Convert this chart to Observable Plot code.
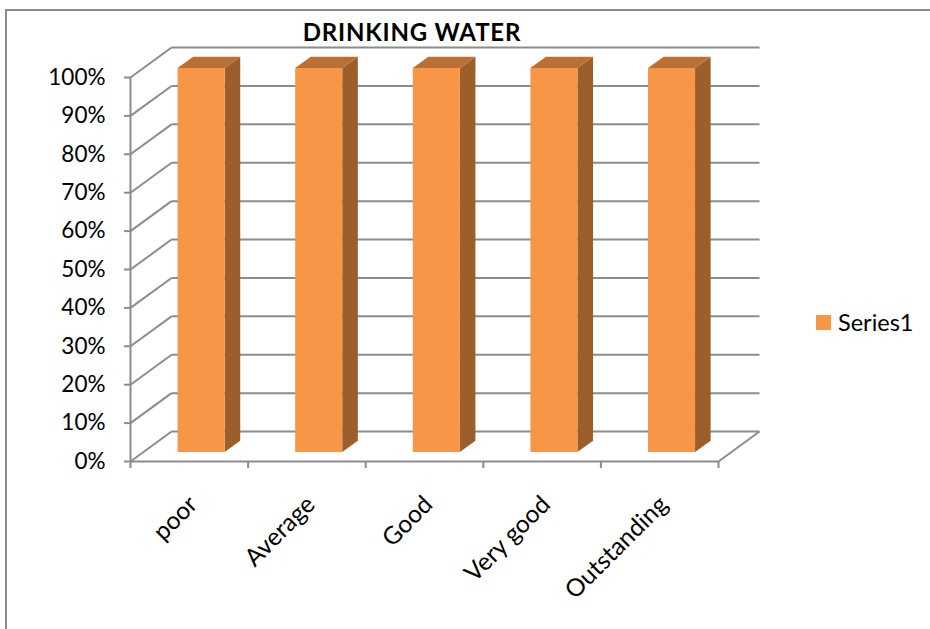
<!DOCTYPE html>
<html>
<head>
<meta charset="utf-8">
<script src="https://cdn.jsdelivr.net/npm/d3@7"></script>
<script src="https://cdn.jsdelivr.net/npm/@observablehq/plot@0.6"></script>
<style>
  html, body { margin: 0; padding: 0; background: #fff; }
  #wrap { position: relative; width: 930px; height: 629px; overflow: hidden; font-family: Lato, "Open Sans", sans-serif; }
  #border { position: absolute; left: 5px; top: 9px; width: 1200px; height: 1200px; border-left: 2px solid #8c8c8c; border-top: 2px solid #8c8c8c; }
  #title { position: absolute; top: 19.5px; left: 412px; transform: translateX(-50%); font-size: 24px; letter-spacing: 0.8px; font-weight: bold; line-height: 1; white-space: nowrap; color: #000; }
  #legend { position: absolute; left: 816px; top: 311px; font-size: 23.5px; line-height: 1; white-space: nowrap; display: flex; align-items: center; }
  #legend .sw { width: 15px; height: 15px; background: #F79646; margin-right: 7px; }
  #chart { position: absolute; left: 0; top: 0; }
</style>
</head>
<body>
<div id="wrap">
  <div id="border"></div>
  <div id="chart"></div>
  <div id="title">DRINKING WATER</div>
  <div id="legend"><div class="sw"></div><span>Series1</span></div>
</div>
<script>
// ---- data ----
const categories = ["poor", "Average", "Good", "Very good", "Outstanding"];
const series1 = [1, 1, 1, 1, 1];
const yTicks = [0, 0.1, 0.2, 0.3, 0.4, 0.5, 0.6, 0.7, 0.8, 0.9, 1];
const seriesName = "Series1";

// ---- 3D geometry (depth of the box in data units) ----
const DX = 0.349;   // depth along x (one category = 1 unit)
const DY = 0.078;   // depth along y
const FRONT = 0.3;  // bar front face depth fraction
const BACK = 0.68;  // bar back face depth fraction
const HALF = 0.2;   // half bar width
const grid = "#8c8c8c";

const bars = categories.map((c, i) => ({c, i, v: series1[i]}));
const sideFaces = bars.flatMap(d => [
  {c: d.c, x: d.i + 0.5 + HALF + FRONT * DX, y1: FRONT * DY, y2: d.v + FRONT * DY},
  {c: d.c, x: d.i + 0.5 + HALF + BACK * DX, y1: BACK * DY, y2: d.v + BACK * DY}
]);
const topFaces = bars.flatMap(d => [
  {c: d.c, y: d.v + FRONT * DY, x1: d.i + 0.5 - HALF + FRONT * DX, x2: d.i + 0.5 + HALF + FRONT * DX},
  {c: d.c, y: d.v + BACK * DY, x1: d.i + 0.5 - HALF + BACK * DX, x2: d.i + 0.5 + HALF + BACK * DX}
]);
const xEdges = d3.range(categories.length + 1);

const chart = Plot.plot({
  width: 930,
  height: 629,
  marginLeft: 130,
  marginRight: 212,
  marginTop: 77,
  marginBottom: 168,
  style: {fontFamily: "Lato, 'Open Sans', sans-serif", background: "transparent", color: "#000", overflow: "visible"},
  x: {domain: [0, categories.length], axis: null},
  y: {domain: [0, 1], axis: null},
  marks: [
    // back wall gridlines
    Plot.link(yTicks, {x1: 0 + DX, x2: categories.length + DX, y1: d => d + DY, y2: d => d + DY, stroke: grid, strokeWidth: 2}),
    // left wall diagonals
    Plot.link(yTicks, {x1: 0, x2: DX, y1: d => d, y2: d => d + DY, stroke: grid, strokeWidth: 2}),
    // floor right edge
    Plot.link([0], {x1: categories.length, x2: categories.length + DX, y1: 0, y2: DY, stroke: grid, strokeWidth: 2}),
    // front floor edge & vertical axis line
    Plot.ruleY([0], {x1: 0, x2: categories.length, stroke: grid, strokeWidth: 2}),
    Plot.ruleX([0], {y1: 0, y2: 1, stroke: grid, strokeWidth: 2}),
    // y axis
    Plot.axisY({ticks: yTicks, tickFormat: d3.format(".0%"), tickSize: 6, tickPadding: 19, fontSize: 22.5, stroke: grid, strokeWidth: 2, fill: "#000"}),
    // x axis ticks
    Plot.axisX({ticks: xEdges, tickFormat: () => "", tickSize: 7, tickPadding: 0, stroke: grid, strokeWidth: 2}),
    // category labels
    Plot.text(categories, {x: (d, i) => i + 0.5, y: 0, text: d => d, rotate: -45, textAnchor: "end", dx: 4, dy: 39, fontSize: 24.5, fill: "#000"}),
    // bars: side, top, front
    Plot.areaY(sideFaces, {x: "x", y1: "y1", y2: "y2", z: "c", fill: "#9C5E2B"}),
    Plot.areaX(topFaces, {y: "y", x1: "x1", x2: "x2", z: "c", fill: "#BA7034"}),
    Plot.rect(bars, {x1: d => d.i + 0.5 - HALF + FRONT * DX, x2: d => d.i + 0.5 + HALF + FRONT * DX, y1: FRONT * DY, y2: d => d.v + FRONT * DY, fill: "#F79646", title: d => `${seriesName}: ${d.c}`})
  ]
});
document.getElementById("chart").appendChild(chart);
</script>
</body>
</html>
